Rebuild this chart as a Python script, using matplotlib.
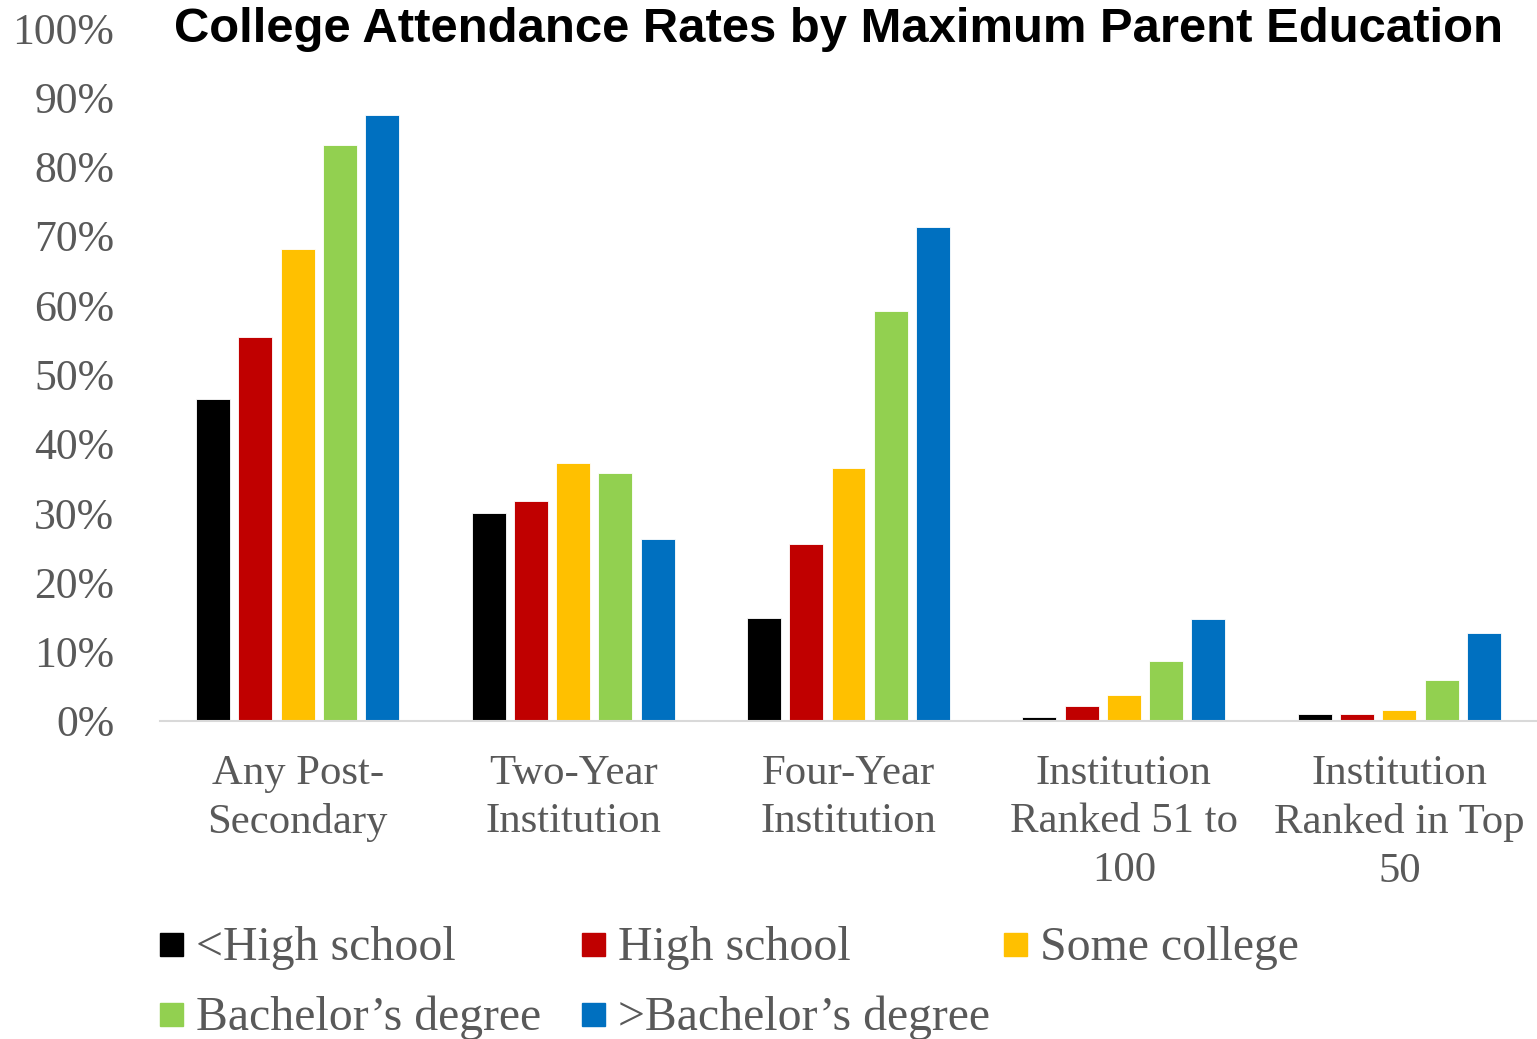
import numpy as np
import matplotlib as mpl
mpl.use('Agg')
import matplotlib.pyplot as plt
from matplotlib.patches import Rectangle

# data
categories = ['Any Post-\nSecondary', 'Two-Year\nInstitution', 'Four-Year\nInstitution',
              'Institution\nRanked 51 to\n100', 'Institution\nRanked in Top\n50']
series = ['<High school', 'High school', 'Some college',
          "Bachelor\u2019s degree", ">Bachelor\u2019s degree"]
less_hs = [0.465, 0.300, 0.149, 0.006, 0.010]
high_school = [0.554, 0.317, 0.255, 0.022, 0.010]
some_college = [0.681, 0.372, 0.365, 0.038, 0.016]
bachelors = [0.831, 0.358, 0.592, 0.086, 0.059]
above_bachelors = [0.874, 0.263, 0.713, 0.147, 0.127]
values = [less_hs, high_school, some_college, bachelors, above_bachelors]
colors = ['#000000', '#C00000', '#FFC000', '#92D050', '#0070C0']
yticks = np.arange(0, 1.01, 0.1)

TEXT = '#595959'
W, H = 1537, 1039

fig = plt.figure(figsize=(W / 100, H / 100), dpi=100)
ax = fig.add_axes([160 / W, 318 / H, 1377 / W, 693 / H])

x = np.arange(len(categories))
width = 0.1234
step = 0.1535
for i, (vals, c) in enumerate(zip(values, colors)):
    ax.bar(x + (i - 2) * step, vals, width, color=c, edgecolor='white', linewidth=0.6)

ax.set_xlim(-0.5, len(categories) - 0.5)
ax.set_ylim(0, 1.0)
ax.set_yticks(yticks)
ax.set_yticklabels(['%d%%' % round(v * 100) for v in yticks])
ax.set_xticks(x)
ax.set_xticklabels(categories, linespacing=1.34)
for lab in ax.get_yticklabels():
    lab.set_family('Liberation Serif')
    lab.set_fontsize(31.5)
    lab.set_color(TEXT)
for lab in ax.get_xticklabels():
    lab.set_family('Liberation Serif')
    lab.set_fontsize(30.8)
    lab.set_color(TEXT)
ax.tick_params(axis='both', length=0)
ax.tick_params(axis='y', pad=33)
ax.tick_params(axis='x', pad=24)
for s in ['left', 'right', 'top']:
    ax.spines[s].set_visible(False)
ax.spines['bottom'].set_color('#D9D9D9')
ax.spines['bottom'].set_linewidth(1.5)

fig.text(839 / W, 1 - 30 / H, 'College Attendance Rates by Maximum Parent Education',
         ha='center', va='center', fontsize=35.3, fontweight='bold',
         family='Liberation Sans', color='black')

# legend laid out like Excel's: fixed column widths
for i, (name, c) in enumerate(zip(series, colors)):
    row, col = divmod(i, 3)
    lx = 160 + col * 422
    ly = 945 + row * 70
    fig.patches.append(Rectangle((lx / W, 1 - (ly + 11) / H), 23 / W, 23 / H,
                                 transform=fig.transFigure, color=c))
    fig.text((lx + 36) / W, 1 - (ly + 3) / H, name, ha='left', va='center',
             fontsize=34.4, family='Liberation Serif', color=TEXT)

fig.savefig('out.png', dpi=100)
